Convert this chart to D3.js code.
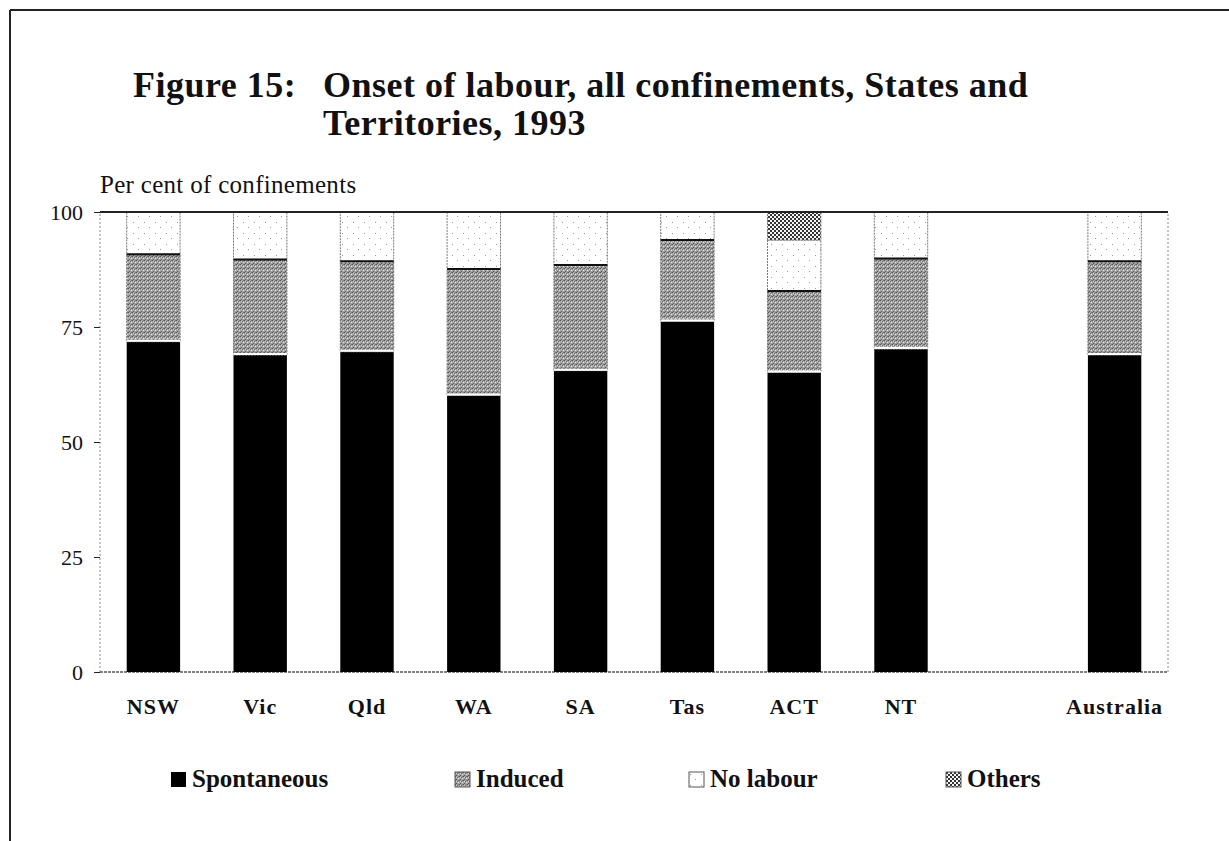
<!DOCTYPE html>
<html>
<head>
<meta charset="utf-8">
<script src="https://cdn.jsdelivr.net/npm/d3@7"></script>
<style>
  body { margin: 0; background: #fff; }
  svg { display: block; font-family: "Liberation Serif", "Times New Roman", serif; }
</style>
</head>
<body>
<script>
const categories=["NSW", "Vic", "Qld", "WA", "SA", "Tas", "ACT", "NT", "Australia"];
const spontaneous=[71.8, 68.9, 69.6, 60.1, 65.5, 76.2, 65.1, 70.2, 68.9];
const induced=[19.0, 20.8, 19.7, 27.5, 23.0, 17.7, 17.7, 19.7, 20.4];
const noLabour=[9.2, 10.3, 10.7, 12.4, 11.5, 6.1, 11.1, 10.1, 10.7];
const others=[0, 0, 0, 0, 0, 0, 6.1, 0, 0];
const yTicks=[0, 25, 50, 75, 100];
const seriesNames=["Spontaneous", "Induced", "No labour", "Others"];

const keys=["spontaneous", "induced", "noLabour", "others"];
const rows=categories.map((c, i) => ({
    cat: c,
    spontaneous: spontaneous[i],
    induced: induced[i],
    noLabour: noLabour[i],
    others: others[i]
}));

// an empty slot sits between NT and Australia
const slots=categories.slice(0, 8).concat(["_gap"], categories.slice(8));

const width=1229, height=841;
const svg=d3.select("body").append("svg")
    .attr("width", width)
    .attr("height", height);

const defs=svg.append("defs");

// induced: mottled grey
const pInd=defs.append("pattern").attr("id", "pInduced")
    .attr("patternUnits", "userSpaceOnUse").attr("width", 4).attr("height", 4);
pInd.append("rect").attr("width", 4).attr("height", 4).attr("fill", "#a2a2a2");
[[0,0,"#555"],[2,1,"#6c6c6c"],[1,3,"#555"],[3,2,"#e2e2e2"],[1,1,"#d0d0d0"],[3,0,"#7c7c7c"]]
    .forEach(p => pInd.append("rect").attr("x", p[0]).attr("y", p[1]).attr("width", 1).attr("height", 1).attr("fill", p[2]));

// no labour: white with sparse dots
const pNo=defs.append("pattern").attr("id", "pNoLabour")
    .attr("patternUnits", "userSpaceOnUse").attr("width", 11).attr("height", 11);
pNo.append("rect").attr("width", 11).attr("height", 11).attr("fill", "#fff");
[[1,2],[6,7]].forEach(p => pNo.append("rect").attr("x", p[0]).attr("y", p[1])
    .attr("width", 1).attr("height", 1).attr("fill", "#999"));

// others: fine checker
const pOth=defs.append("pattern").attr("id", "pOthers")
    .attr("patternUnits", "userSpaceOnUse").attr("width", 4).attr("height", 4);
pOth.append("rect").attr("width", 4).attr("height", 4).attr("fill", "#f4f4f4");
pOth.append("rect").attr("width", 2).attr("height", 2).attr("fill", "#333");
pOth.append("rect").attr("x", 2).attr("y", 2).attr("width", 2).attr("height", 2).attr("fill", "#333");

const fills={
    spontaneous: "#000",
    induced: "url(#pInduced)",
    noLabour: "url(#pNoLabour)",
    others: "url(#pOthers)"
};

// page frame
svg.append("line").attr("x1", 10).attr("x2", width).attr("y1", 10).attr("y2", 10)
    .attr("stroke", "#222").attr("stroke-width", 2);
svg.append("line").attr("x1", 10).attr("x2", 10).attr("y1", 10).attr("y2", height)
    .attr("stroke", "#222").attr("stroke-width", 2);

// title
const title=svg.append("g")
    .style("font-weight", "bold")
    .style("font-size", "36px")
    .style("letter-spacing", "0.5px")
    .attr("fill", "#111");
title.append("text").attr("x", 133).attr("y", 97).text("Figure 15:");
title.append("text").attr("x", 323).attr("y", 97).text("Onset of labour, all confinements, States and");
title.append("text").attr("x", 323).attr("y", 135).text("Territories, 1993");

svg.append("text")
    .attr("x", 100).attr("y", 193)
    .style("font-size", "25px")
    .style("letter-spacing", "0.3px")
    .attr("fill", "#111")
    .text("Per cent of confinements");

const x=d3.scaleBand()
    .domain(slots)
    .range([100, 1168])
    .paddingInner(0.5)
    .paddingOuter(0.25);

const y=d3.scaleLinear()
    .domain([0, 100])
    .range([672, 212]);

// plot box
svg.append("line").attr("x1", x.range()[0]).attr("x2", x.range()[1]).attr("y1", y(0)).attr("y2", y(0))
    .attr("stroke", "#555").attr("stroke-width", 1.5).attr("stroke-dasharray", "3,1");
svg.append("line").attr("x1", x.range()[0]).attr("x2", x.range()[0]).attr("y1", y(0)).attr("y2", y(100))
    .attr("stroke", "#888").attr("stroke-width", 1).attr("stroke-dasharray", "2,2");
svg.append("line").attr("x1", x.range()[1]).attr("x2", x.range()[1]).attr("y1", y(0)).attr("y2", y(100))
    .attr("stroke", "#888").attr("stroke-width", 1).attr("stroke-dasharray", "2,2");

const stack=d3.stack().keys(keys);
const layers=stack(rows);

svg.append("g").selectAll("g")
    .data(layers)
    .join("g")
    .attr("fill", d => fills[d.key])
    .selectAll("rect")
    .data(d => d.map(s => ({ s, key: d.key })))
    .join("rect")
    .attr("x", d => x(d.s.data.cat))
    .attr("width", x.bandwidth())
    .attr("y", d => y(d.s[1]))
    .attr("height", d => y(d.s[0])-y(d.s[1]))
    .attr("stroke", d => d.key==="spontaneous" ? "none" : "#777")
    .attr("stroke-width", 1)
    .attr("stroke-dasharray", "2,1");

// white gap above spontaneous, dark line above induced
svg.append("g").selectAll("line")
    .data(rows)
    .join("line")
    .attr("x1", d => x(d.cat))
    .attr("x2", d => x(d.cat)+x.bandwidth())
    .attr("y1", d => y(d.spontaneous)-1)
    .attr("y2", d => y(d.spontaneous)-1)
    .attr("stroke", "#fff")
    .attr("stroke-width", 2);

svg.append("g").selectAll("line")
    .data(rows)
    .join("line")
    .attr("x1", d => x(d.cat))
    .attr("x2", d => x(d.cat)+x.bandwidth())
    .attr("y1", d => y(d.spontaneous+d.induced))
    .attr("y2", d => y(d.spontaneous+d.induced))
    .attr("stroke", "#111")
    .attr("stroke-width", 2);

// top line of the plot
svg.append("line").attr("x1", x.range()[0]).attr("x2", x.range()[1]).attr("y1", y(100)).attr("y2", y(100))
    .attr("stroke", "#222").attr("stroke-width", 2);

// y axis
const yAxis=svg.append("g")
    .attr("transform", `translate(${x.range()[0]},0)`)
    .call(d3.axisLeft(y).tickValues(yTicks).tickSize(6).tickPadding(11));
yAxis.select(".domain").remove();
yAxis.selectAll(".tick line").attr("stroke", "#222");
yAxis.selectAll(".tick text")
    .attr("fill", "#111")
    .style("font-family", "Liberation Serif, serif")
    .style("font-size", "22px")
    .attr("dy", "0.35em");

// x labels
const xAxis=svg.append("g")
    .attr("transform", `translate(0,${y(0)})`)
    .call(d3.axisBottom(x).tickValues(categories).tickSize(0).tickPadding(0));
xAxis.select(".domain").remove();
xAxis.selectAll(".tick text")
    .attr("y", 42)
    .attr("dy", 0)
    .attr("fill", "#111")
    .style("font-family", "Liberation Serif, serif")
    .style("font-size", "22px")
    .style("font-weight", "bold")
    .style("letter-spacing", "1px");

// legend
const legendX=[171, 455, 689, 946];
const legendFills=["#000", "url(#pInduced)", "url(#pNoLabour)", "url(#pOthers)"];
const legend=svg.append("g").selectAll("g")
    .data(seriesNames)
    .join("g")
    .attr("transform", (d, i) => `translate(${legendX[i]},772)`);

legend.append("rect")
    .attr("width", 15)
    .attr("height", 15)
    .attr("fill", (d, i) => legendFills[i])
    .attr("stroke", (d, i) => i===0 ? "none" : "#555")
    .attr("stroke-width", 1);

legend.append("text")
    .attr("x", 21)
    .attr("y", 15)
    .style("font-size", "25px")
    .style("font-weight", "bold")
    .attr("fill", "#111")
    .text(d => d);
</script>
</body>
</html>
